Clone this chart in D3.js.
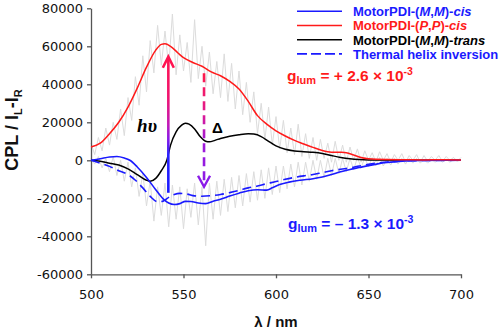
<!DOCTYPE html>
<html><head><meta charset="utf-8">
<script src="https://cdn.jsdelivr.net/npm/d3@7/dist/d3.min.js"></script>
<style>
html,body{margin:0;padding:0;background:#fff;}
svg{display:block;}
</style></head>
<body><svg id="chart" width="500" height="331"></svg>
<script>
// ---------- data ----------
const xTicks = [500, 550, 600, 650, 700];
const yTicks = [-60000, -40000, -20000, 0, 20000, 40000, 60000, 80000];

// MotorPDI-(P,P)-cis (red)
const redNm  = [500,505,510,515,520,525,530,535,538,540,543,547,550,555,560,565,570,575,580,585,590,595,600,605,610,615,620,625,630,635,638,642,646,650,660,670,680,690,700];
const redVal = [7000,9000,14000,20000,28000,38000,49000,58000,61000,61300,60000,56500,54000,51500,49500,46500,44500,41500,37500,31000,23500,19000,15500,12800,10500,8600,6800,5200,4300,4200,4000,2800,1500,800,400,300,200,300,200];

// MotorPDI-(M,M)-trans (black)
const blackNm  = [500,505,510,515,520,525,530,532,535,538,541,543,546,549,551,553,556,559,562,564,567,570,575,580,585,588,592,596,600,605,610,615,620,625,630,635,640,645,650,700];
const blackVal = [0,-500,-1500,-2500,-4500,-7500,-10500,-11000,-9500,-5500,0,8000,15000,18500,19500,19000,16500,12500,10000,9700,10500,11500,12700,13500,14000,13800,12500,10000,7600,5800,4900,4500,4200,3600,2500,1500,800,400,200,0];

// MotorPDI-(M,M)-cis (blue solid)
const blueNm  = [500,505,510,514,518,521,525,530,535,539,542,545,548,551,554,558,562,566,570,575,580,585,590,595,598,602,607,613,620,625,630,635,640,645,650,655,660,665,670,680,690,700];
const blueVal = [0,800,1700,2000,1200,0,-3500,-9000,-15500,-20300,-22500,-23300,-22800,-21600,-21700,-22500,-22800,-21500,-20500,-18800,-17300,-16000,-15500,-15700,-14500,-12800,-11500,-10500,-9700,-8800,-7500,-6000,-4800,-3800,-2800,-1900,-1200,-700,-300,-100,0,0];

// Thermal helix inversion (blue dashed)
const thermNm  = [500,505,510,515,520,524,528,532,536,539,542,545,548,552,556,560,565,570,575,580,585,590,595,600,605,610,615,620,625,630,635,640,645,650,655,660,665,670,680,700];
const thermVal = [0,-1500,-3200,-5500,-7500,-10500,-14500,-19000,-21800,-21500,-19500,-18000,-17400,-17800,-18700,-18900,-18600,-18000,-17000,-15800,-14500,-13500,-12300,-11200,-10000,-9000,-8200,-7500,-6500,-5500,-4700,-4000,-3000,-2100,-1400,-900,-600,-300,-100,0];

// raw (unsmoothed) spectra, every 2 nm from 500 to 700 (grey)
const rawStart = 500, rawStep = 2;
const rawA = [9000,3000,12000,5000,17000,8000,20000,11000,27000,13000,33000,
  21000,44000,29000,55000,36000,63000,46000,71000,50000,68000,
  49000,77000,45000,66000,47000,62000,41000,74000,43000,60000,
  39000,57000,35000,52000,33000,56000,31000,51000,27000,47000,
  24000,41000,20000,36000,14000,30000,11000,28000,8000,23000,
  6000,21000,4000,17000,3000,19000,2000,14000,1000,12000,
  0,11000,1000,9000,-1000,10000,0,8000,-1000,7000,
  0,6000,-1000,5000,0,4000,-1000,4500,0,3500,
  -1000,3000,0,3500,-1000,2500,0,3000,-1000,2500,
  -500,2000,0,2500,-500,2000,0,1500,-500,1500];
const rawB = [1000,-2000,2000,-4000,1000,-6000,2000,-8000,0,-11000,-1000,
  -14000,-4000,-19000,-7000,-24000,-11000,-32000,-14000,-29000,-12000,
  -35000,-13000,-31000,-14000,-36000,-15000,-30000,-12000,-34000,-14000,
  -45000,-12000,-31000,-11000,-29000,-10000,-27000,-9000,-25000,-8000,
  -24000,-7000,-22000,-6000,-21000,-5000,-20000,-4000,-18000,-3000,
  -17000,-3000,-15000,-2000,-14000,-1000,-13000,-1000,-11000,0,
  -10000,0,-9000,1000,-8000,1000,-7000,1000,-6000,1000,
  -5000,1500,-4000,1500,-3500,1500,-3000,1500,-3000,1000,
  -2500,1000,-2000,1000,-2000,1000,-1500,1000,-1500,500,
  -1500,500,-1000,500,-1000,500,-1000,500,-500,0];

// annotations (data units)
const lightArrow   = {nm: 541.8, from: -17100, to: 54500};
const thermalArrow = {nm: 561.1, from: 45800, to: -13900};
const hvLabel      = {nm: 524.9, v: 14900};
const deltaLabel   = {nm: 565.4, v: 14400};
const gPlusLabel   = {nm: 606.0, v: 41900};
const gMinusLabel  = {nm: 606.5, v: -36100};

const legendItems = [
  {text: "MotorPDI-(*M*,*M*)-*cis*",   color: "#1a1aff", textColor: "#1a1aff", dash: null},
  {text: "MotorPDI-(*P*,*P*)-*cis*",   color: "#ff1a1a", textColor: "#ff1a1a", dash: null},
  {text: "MotorPDI-(*M*,*M*)-*trans*", color: "#000000", textColor: "#000000", dash: null},
  {text: "Thermal helix inversion",    color: "#1a1aff", textColor: "#1a1aff", dash: "10,4"}
];

// ---------- drawing ----------
const svg = d3.select("#chart");
const x = d3.scaleLinear().domain([500, 700]).range([91, 461]);
const y = d3.scaleLinear().domain([-60000, 80000]).range([274.3, 8.3]);

const defs = svg.append("defs");
function vGrad(id, y1, y2, stops) {
  const g = defs.append("linearGradient").attr("id", id)
    .attr("gradientUnits", "userSpaceOnUse")
    .attr("x1", 0).attr("x2", 0).attr("y1", y1).attr("y2", y2);
  stops.forEach(s => g.append("stop").attr("offset", s[0]).attr("stop-color", s[1]));
}

// grey raw data
const rawLine = d3.line().x((d, i) => x(rawStart + i * rawStep)).y(d => y(d));
[rawA, rawB].forEach(arr => {
  svg.append("path").attr("d", rawLine(arr))
    .attr("fill", "none").attr("stroke", "#dcdcdc").attr("stroke-width", 1);
});

// axes
const yAxis = d3.axisLeft(y).tickValues(yTicks).tickSize(4).tickSizeOuter(0).tickPadding(4)
  .tickFormat(d => String(d));
const xAxis = d3.axisBottom(x).tickValues(xTicks).tickSize(4).tickSizeOuter(0).tickPadding(11)
  .tickFormat(d => String(d));
const gy = svg.append("g").attr("transform", `translate(${x(500)},0)`).call(yAxis);
const gx = svg.append("g").attr("transform", `translate(0,${y(-60000)})`).call(xAxis);
[gx, gy].forEach(g => {
  g.selectAll("path,line").attr("stroke", "#555").attr("stroke-width", 1.3);
  g.selectAll("text").attr("fill", "#111").style("font-family", "DejaVu Sans, sans-serif").style("font-size", "13px");
});

// curves
const curveLine = d3.line().curve(d3.curveMonotoneX).x(d => x(d[0])).y(d => y(d[1]));
function drawCurve(nm, val, color, width, dash) {
  const p = svg.append("path").attr("d", curveLine(nm.map((n, i) => [n, val[i]])))
    .attr("fill", "none").attr("stroke", color).attr("stroke-width", width);
  if (dash) p.attr("stroke-dasharray", dash);
}
drawCurve(blackNm, blackVal, "#000", 1.5);
drawCurve(thermNm, thermVal, "#1a1aff", 1.6, "9,5");
drawCurve(blueNm, blueVal, "#1a1aff", 1.6);
drawCurve(redNm, redVal, "#ff1a1a", 1.5);

// light arrow (gradient)
{
  const ax = x(lightArrow.nm), y0 = y(lightArrow.from), y1 = y(lightArrow.to);
  vGrad("gLight", y1, y0, [[0, "#ff1450"], [0.3, "#f01470"], [0.5, "#c01ab8"], [0.6, "#8a1ae6"], [0.72, "#2a22ff"], [1, "#1a1aff"]]);
  svg.append("line").attr("x1", ax).attr("x2", ax).attr("y1", y0).attr("y2", y1 + 2)
    .attr("stroke", "url(#gLight)").attr("stroke-width", 2.6);
  svg.append("path").attr("d", `M${ax - 5.5},${y1 + 11}L${ax},${y1}L${ax + 5.5},${y1 + 11}`)
    .attr("fill", "none").attr("stroke", "#ff1450").attr("stroke-width", 2.6).attr("stroke-linejoin", "miter");
}
// thermal arrow (dashed gradient)
{
  const ax = x(thermalArrow.nm), y0 = y(thermalArrow.from), y1 = y(thermalArrow.to);
  vGrad("gTherm", y0, y1, [[0, "#ff1a4a"], [0.35, "#e01a90"], [0.6, "#a01ad8"], [1, "#8a1ae8"]]);
  svg.append("line").attr("x1", ax).attr("x2", ax).attr("y1", y0).attr("y2", y1 - 2)
    .attr("stroke", "url(#gTherm)").attr("stroke-width", 2.6).attr("stroke-dasharray", "9,5");
  svg.append("path").attr("d", `M${ax - 6},${y1 - 11}L${ax},${y1}L${ax + 6},${y1 - 11}`)
    .attr("fill", "none").attr("stroke", "#8a1ae8").attr("stroke-width", 2.4);
}

// hv and delta labels
svg.append("text").attr("x", x(hvLabel.nm)).attr("y", y(hvLabel.v))
  .style("font-family", "Liberation Serif, serif").style("font-style", "italic").style("font-weight", "bold")
  .style("font-size", "19px").attr("fill", "#000").text("hυ");
svg.append("text").attr("x", x(deltaLabel.nm)).attr("y", y(deltaLabel.v))
  .style("font-family", "Liberation Sans, Arial, sans-serif").style("font-weight", "bold")
  .style("font-size", "15px").attr("fill", "#000").text("Δ");

// g_lum labels
function gLabel(pos, sign, num, color) {
  const t = svg.append("text").attr("x", x(pos.nm)).attr("y", y(pos.v)).attr("fill", color)
    .style("font-family", "Liberation Sans, Arial, sans-serif").style("font-weight", "bold").style("font-size", "15.5px");
  t.append("tspan").text("g");
  t.append("tspan").attr("dy", 3).style("font-size", "11px").text("lum");
  t.append("tspan").attr("dy", -3).text(` = ${sign} ${num} × 10`);
  t.append("tspan").attr("dy", -6).style("font-size", "10.5px").text("-3");
}
gLabel(gPlusLabel, "+", "2.6", "#ff1a1a");
gLabel(gMinusLabel, "\u2013", "1.3", "#1a1aff");

// legend
const legendRowY = [16, 30.3, 44.5, 58.7];
legendItems.forEach((it, i) => {
  const by = legendRowY[i];
  const ln = svg.append("line").attr("x1", 297).attr("x2", 342).attr("y1", by - 4.8).attr("y2", by - 4.8)
    .attr("stroke", it.color).attr("stroke-width", 1.6);
  if (it.dash) ln.attr("stroke-dasharray", it.dash);
  const t = svg.append("text").attr("x", 353).attr("y", by).attr("fill", it.textColor)
    .style("font-family", "Liberation Sans, Arial, sans-serif").style("font-weight", "bold").style("font-size", "13px");
  it.text.split("*").forEach((part, k) => {
    if (!part) return;
    const s = t.append("tspan").text(part);
    if (k % 2 === 1) s.style("font-style", "italic");
  });
});

// axis titles
const yt = svg.append("text").attr("transform", `translate(18,130) rotate(-90)`).attr("text-anchor", "middle")
  .attr("fill", "#111").style("font-family", "Liberation Sans, Arial, sans-serif").style("font-weight", "bold").style("font-size", "18px");
yt.append("tspan").text("CPL / I");
yt.append("tspan").attr("dy", 4).style("font-size", "11px").text("L");
yt.append("tspan").attr("dy", -4).text("-I");
yt.append("tspan").attr("dy", 4).style("font-size", "11px").text("R");

svg.append("text").attr("x", x(600)).attr("y", 327).attr("text-anchor", "middle").attr("fill", "#111")
  .style("font-family", "Liberation Sans, Arial, sans-serif").style("font-weight", "bold").style("font-size", "15px")
  .text("λ / nm");
</script></body></html>
